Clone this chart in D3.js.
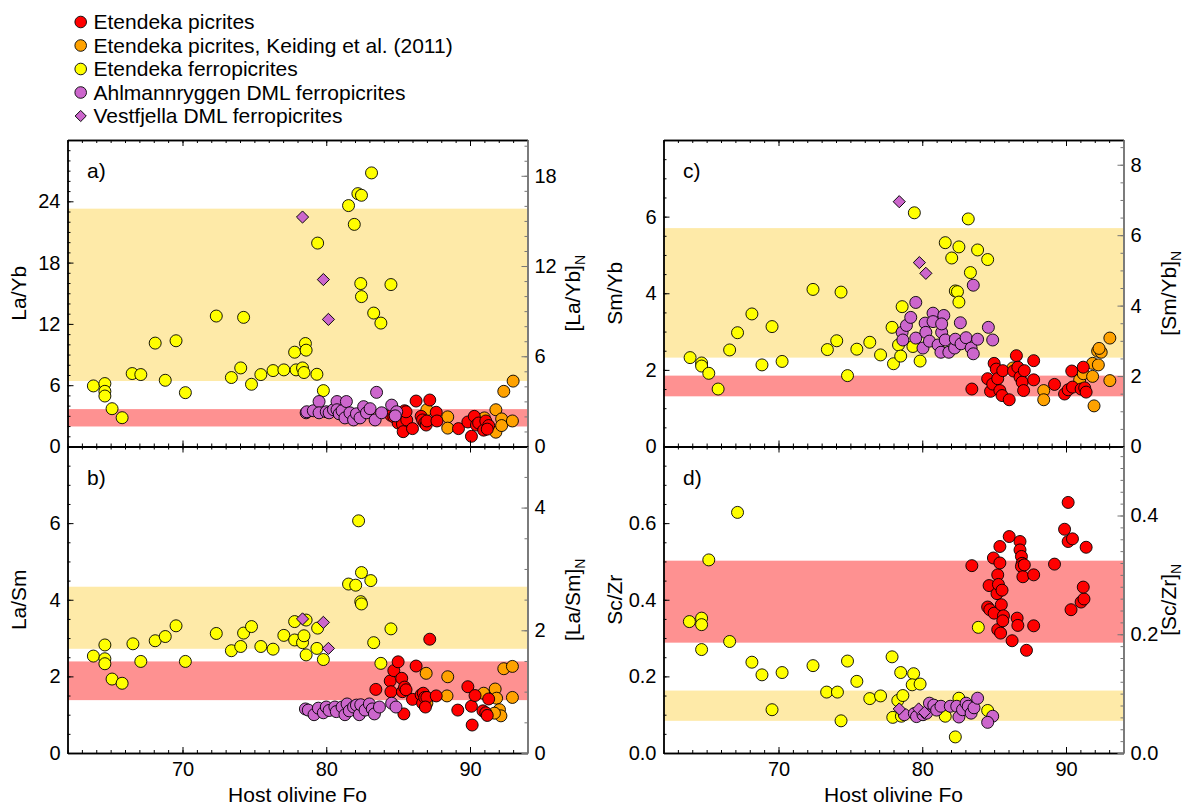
<!DOCTYPE html>
<html>
<head>
<meta charset="utf-8">
<script src="https://cdn.jsdelivr.net/npm/d3@7"></script>
<style>
  body { margin: 0; background: #fff; }
  svg { display: block; font-family: "Liberation Sans", Arial, Helvetica, sans-serif; }
</style>
</head>
<body>
<svg id="chart" width="1187" height="805"></svg>
<script>
// ---------- data: [host olivine Fo, ratio] ----------
const groups = ["pic", "keid", "ferro", "ahl", "vest"];
const groupLabels = [
  "Etendeka picrites",
  "Etendeka picrites, Keiding et al. (2011)",
  "Etendeka ferropicrites",
  "Ahlmannryggen DML ferropicrites",
  "Vestfjella DML ferropicrites"
];
const foDomain = [62, 94];
const foTicks = [70, 80, 90];

// chondrite ratios (McDonough & Sun 1995) for normalised right-hand axes
const chondriteLaYb = 0.237 / 0.161;
const chondriteLaSm = 0.237 / 0.148;
const chondriteSmYb = 0.148 / 0.161;
const chondriteScZr = 5.92 / 3.82;

// a) La/Yb
const laYb_ferro = [[63.8,5.93],[64.6,6.16],[64.6,5.4],[64.6,4.94],[65.1,3.70],[65.8,2.82],[66.5,7.14],[67.1,7.04],[68.1,10.12],[68.8,6.48],[69.55,10.35],[70.2,5.27],[72.35,12.77],[73.4,6.75],[74.05,7.69],[74.25,12.64],[74.8,6.09],[75.45,7.04],[76.3,7.43],[77.05,7.50],[77.8,9.23],[77.9,7.50],[78.35,7.69],[78.45,7.24],[78.55,10.08],[78.6,9.43],[79.35,7.07],[79.4,19.91],[79.8,5.47],[81.55,23.58],[81.95,21.74],[82.2,24.75],[82.45,24.59],[82.4,15.95],[82.45,14.67],[83.15,26.78],[83.3,13.06],[83.8,12.08],[84.5,15.85]];
const laYb_vest = [[78.35,22.46],[79.8,16.34],[80.15,12.44]];
const laYb_ahl = [[78.6,3.3],[78.65,3.4],[79.1,3.5],[79.5,4.4],[79.5,3.3],[80.0,3.4],[80.2,3.3],[80.5,3.6],[80.75,4.4],[80.75,3.6],[80.9,3.2],[81.1,3.5],[81.3,2.8],[81.4,4.4],[81.65,3.3],[81.9,2.6],[82.1,3.2],[82.35,2.8],[82.6,3.9],[82.8,3.3],[83.05,3.7],[83.4,2.6],[83.5,5.3],[83.85,3.3],[84.55,4.05],[84.9,3.4],[84.8,3.0]];
const laYb_pic = [[84.5,3.05],[84.7,2.9],[85.0,2.3],[85.2,2.9],[85.3,2.2],[85.35,1.45],[85.45,3.5],[85.6,2.6],[85.55,3.4],[86.0,1.75],[86.25,4.45],[86.6,2.95],[86.7,2.6],[86.85,2.3],[86.95,2.1],[87.0,2.5],[87.2,4.55],[87.65,3.35],[87.7,2.5],[89.2,1.75],[89.85,2.4],[90.1,1.0],[90.3,2.95],[90.45,2.1],[90.6,2.3],[90.95,1.6],[91.1,2.5],[91.3,2.05],[91.2,1.7]];
const laYb_keid = [[87.0,3.6],[88.45,2.9],[88.45,1.8],[91.0,2.8],[91.8,1.4],[91.8,3.6],[92.2,2.7],[92.2,2.05],[92.95,2.5],[92.35,5.4],[93.0,6.4]];

// b) La/Sm
const laSm_ferro = [[63.8,2.53],[64.6,2.82],[64.6,2.46],[64.6,2.33],[65.1,1.93],[65.8,1.82],[66.55,2.85],[67.1,2.39],[68.1,2.93],[68.8,3.04],[69.55,3.32],[70.2,2.39],[72.35,3.12],[73.4,2.67],[74.05,2.78],[74.25,3.13],[74.8,3.30],[75.45,2.78],[76.3,2.71],[77.05,3.07],[77.8,3.43],[77.8,2.95],[78.35,2.88],[78.45,3.06],[78.6,3.47],[78.6,2.56],[79.35,2.73],[79.4,3.26],[79.8,2.44],[81.55,4.41],[82.05,4.38],[82.25,6.06],[82.4,3.95],[82.45,4.71],[82.45,3.89],[83.1,4.50],[83.3,2.88],[83.8,2.34],[84.5,3.24]];
const laSm_vest = [[78.35,3.50],[79.8,3.41],[80.15,2.73]];
const laSm_ahl = [[78.55,1.15],[78.75,1.12],[79.15,1.0],[79.45,1.17],[79.8,1.05],[80.0,1.2],[80.2,1.11],[80.6,1.2],[80.7,1.08],[81.1,1.2],[81.3,1.0],[81.45,1.28],[81.6,1.1],[81.9,1.2],[82.1,1.25],[82.3,1.0],[82.4,1.26],[82.7,1.12],[83.0,1.28],[83.2,1.15],[83.35,1.02],[83.7,1.2],[84.55,1.30],[84.85,1.2]];
const laSm_pic = [[83.45,1.66],[84.45,1.88],[84.5,1.6],[84.7,2.15],[85.0,2.38],[85.25,1.95],[85.3,1.6],[85.45,1.72],[85.55,1.65],[85.4,1.02],[86.0,1.40],[86.25,2.27],[86.6,1.52],[86.75,1.56],[86.7,1.3],[86.85,1.45],[87.0,1.45],[86.9,1.2],[87.2,2.97],[87.65,1.49],[89.15,1.12],[89.85,1.73],[90.1,1.22],[90.15,0.73],[90.35,1.5],[90.9,1.1],[91.1,1.05],[91.3,1.41],[91.2,0.98]];
const laSm_keid = [[86.95,2.08],[87.0,1.3],[88.45,1.99],[88.4,1.49],[90.95,1.56],[91.75,1.67],[91.85,1.43],[92.05,1.13],[92.15,0.97],[91.7,1.04],[92.35,2.20],[92.95,2.26],[92.95,1.45]];

// c) Sm/Yb
const smYb_ferro = [[63.85,2.32],[64.65,2.18],[64.65,2.10],[65.15,1.91],[65.8,1.50],[66.6,2.52],[67.15,2.97],[68.15,3.46],[68.85,2.13],[69.55,3.13],[70.25,2.22],[72.4,4.10],[73.4,2.53],[74.05,2.76],[74.35,4.03],[74.8,1.85],[75.45,2.54],[76.35,2.72],[77.1,2.39],[77.9,3.11],[78.0,2.16],[78.35,2.65],[78.5,2.36],[78.6,3.65],[79.35,2.61],[79.45,6.10],[79.85,2.23],[81.6,5.32],[82.05,4.92],[82.3,4.06],[82.45,4.04],[82.55,5.21],[82.55,3.77],[83.2,5.94],[83.35,4.54],[83.85,5.13],[84.55,4.88]];
const smYb_vest = [[78.4,6.39],[79.8,4.80],[80.25,4.52]];
const smYb_ahl = [[78.6,2.98],[78.65,2.78],[78.9,3.16],[79.2,3.37],[79.55,3.76],[79.55,2.83],[80.05,2.57],[80.2,3.22],[80.25,2.98],[80.5,2.75],[80.75,3.48],[80.75,3.26],[81.1,2.65],[81.3,2.46],[81.35,2.98],[81.5,3.42],[81.35,3.2],[81.6,2.78],[81.85,2.46],[82.25,2.57],[82.3,2.8],[82.65,3.23],[82.7,2.68],[83.05,2.84],[83.4,2.57],[83.55,2.42],[83.55,4.21],[83.85,2.8],[84.6,3.11],[84.9,2.78]];
const smYb_pic = [[83.45,1.50],[84.55,1.77],[84.75,1.44],[84.9,1.63],[85.0,2.17],[85.15,2.02],[85.25,1.77],[85.4,1.46],[85.6,1.98],[85.55,1.33],[86.05,1.22],[86.35,1.97],[86.55,2.37],[86.65,2.07],[86.8,1.81],[86.95,1.68],[87.05,1.46],[87.1,1.98],[87.75,2.24],[87.75,1.74],[89.2,1.62],[89.9,1.37],[90.15,1.48],[90.4,1.97],[90.45,1.55],[91.05,1.50],[91.2,2.07],[91.3,1.53],[91.4,1.42]];
const smYb_keid = [[86.3,2.05],[88.45,1.46],[88.45,1.22],[90.95,1.74],[91.2,1.90],[91.85,1.83],[91.95,1.06],[91.85,2.17],[92.25,2.13],[92.2,2.49],[92.45,2.46],[92.3,2.56],[93.05,2.83],[93.05,1.72]];

// d) Sc/Zr
const scZr_ferro = [[63.8,0.343],[64.65,0.352],[64.65,0.335],[64.65,0.270],[65.15,0.504],[66.6,0.291],[67.15,0.628],[68.15,0.237],[68.85,0.204],[69.55,0.113],[70.25,0.210],[72.4,0.228],[73.35,0.159],[74.1,0.159],[74.35,0.084],[74.8,0.240],[75.45,0.187],[76.35,0.142],[77.1,0.149],[77.9,0.251],[77.95,0.093],[78.3,0.137],[78.5,0.210],[78.65,0.150],[78.55,0.096],[79.4,0.207],[79.3,0.178],[79.85,0.180],[81.6,0.096],[82.3,0.042],[82.55,0.143],[83.9,0.328],[84.55,0.111]];
const scZr_vest = [[78.4,0.115],[79.75,0.115],[80.15,0.106]];
const scZr_ahl = [[78.75,0.100],[79.45,0.103],[79.6,0.095],[80.05,0.100],[80.3,0.104],[80.5,0.130],[80.8,0.125],[81.0,0.112],[81.3,0.122],[81.95,0.122],[82.4,0.122],[82.55,0.094],[82.8,0.113],[83.05,0.130],[83.2,0.122],[83.4,0.104],[83.6,0.118],[83.85,0.143],[84.9,0.096],[84.55,0.080]];
const scZr_pic = [[83.45,0.489],[84.55,0.381],[84.65,0.437],[84.7,0.374],[84.95,0.509],[85.0,0.365],[85.2,0.416],[85.25,0.465],[85.25,0.322],[85.3,0.44],[85.4,0.539],[85.4,0.496],[85.45,0.313],[85.5,0.387],[85.55,0.425],[85.65,0.358],[85.6,0.345],[86.05,0.565],[86.25,0.293],[86.6,0.352],[86.65,0.333],[86.8,0.552],[86.8,0.530],[86.9,0.513],[86.95,0.495],[86.9,0.487],[87.0,0.46],[87.1,0.491],[87.25,0.268],[87.75,0.465],[87.75,0.332],[89.2,0.493],[89.9,0.584],[90.15,0.654],[90.15,0.552],[90.45,0.559],[90.35,0.374],[91.05,0.394],[91.25,0.402],[91.2,0.433],[91.4,0.537]];
const scZr_keid = [];

// shaded reference ranges [low, high]
const laYb_bands = { ferro: [6.41, 23.28], pic: [1.96, 3.66] };
const laSm_bands = { ferro: [2.72, 4.34], pic: [1.38, 2.39] };
const smYb_bands = { ferro: [2.32, 5.70], pic: [1.31, 1.85] };
const scZr_bands = { ferro: [0.084, 0.163], pic: [0.288, 0.502] };

// axis ticks
const laYb_ticks = [0, 6, 12, 18, 24], laYbN_ticks = [0, 6, 12, 18];
const laSm_ticks = [0, 2, 4, 6], laSmN_ticks = [0, 2, 4];
const smYb_ticks = [0, 2, 4, 6], smYbN_ticks = [0, 2, 4, 6, 8];
const scZr_ticks = [0, 0.2, 0.4, 0.6], scZrN_ticks = [0, 0.2, 0.4];

// ---------- drawing ----------
const fillColor = { pic: "#ff0000", keid: "#ffa200", ferro: "#ffff00", ahl: "#cc66cc", vest: "#cc66cc" };
const bandColor = { ferro: "#feeaa8", pic: "#fe9191" };
const axisGray = "#767676";
const W = 460, H = 306.5;

const panels = [
  { letter: "a)", left: 67.5, top: 140, yMax: 30, chondrite: chondriteLaYb, title: "La/Yb", titleN: "[La/Yb]",
    ticks: laYb_ticks, ticksN: laYbN_ticks, minor: 1, minorN: 1, fmt: d3.format("d"), bottomLabels: false,
    bands: laYb_bands, series: { pic: laYb_pic, keid: laYb_keid, ferro: laYb_ferro, ahl: laYb_ahl, vest: laYb_vest } },
  { letter: "b)", left: 67.5, top: 446.5, yMax: 8, chondrite: chondriteLaSm, title: "La/Sm", titleN: "[La/Sm]",
    ticks: laSm_ticks, ticksN: laSmN_ticks, minor: 0.5, minorN: 0.5, fmt: d3.format("d"), bottomLabels: true,
    bands: laSm_bands, series: { pic: laSm_pic, keid: laSm_keid, ferro: laSm_ferro, ahl: laSm_ahl, vest: laSm_vest } },
  { letter: "c)", left: 663.5, top: 140, yMax: 8, chondrite: chondriteSmYb, title: "Sm/Yb", titleN: "[Sm/Yb]",
    ticks: smYb_ticks, ticksN: smYbN_ticks, minor: 0.5, minorN: 0.5, fmt: d3.format("d"), bottomLabels: false,
    bands: smYb_bands, series: { pic: smYb_pic, keid: smYb_keid, ferro: smYb_ferro, ahl: smYb_ahl, vest: smYb_vest } },
  { letter: "d)", left: 663.5, top: 446.5, yMax: 0.8, chondrite: chondriteScZr, title: "Sc/Zr", titleN: "[Sc/Zr]",
    ticks: scZr_ticks, ticksN: scZrN_ticks, minor: 0.05, minorN: 0.02, fmt: d3.format(".1f"), bottomLabels: true,
    bands: scZr_bands, series: { pic: scZr_pic, keid: scZr_keid, ferro: scZr_ferro, ahl: scZr_ahl, vest: scZr_vest } }
];

const svg = d3.select("#chart");
const diamond = d3.symbol().type(d3.symbolSquare).size(74);

function steps(max, step) {
  const n = Math.floor(max / step + 1e-9);
  return d3.range(0, n + 1).map(i => +(i * step).toFixed(6));
}

function styleAxis(sel, color, width) {
  sel.select(".domain").attr("stroke", color).attr("stroke-width", width);
  sel.selectAll(".tick line").attr("stroke", color).attr("stroke-width", 1);
  sel.selectAll(".tick text").attr("fill", "#000").attr("font-size", 20);
  sel.attr("font-family", null);
}

function drawPanel(p) {
  const g = svg.append("g").attr("transform", `translate(${p.left},${p.top})`);
  const x = d3.scaleLinear().domain(foDomain).range([0, W]);
  const y = d3.scaleLinear().domain([0, p.yMax]).range([H, 0]);
  const yN = d3.scaleLinear().domain([0, p.yMax / p.chondrite]).range([H, 0]);

  // reference ranges
  const bandRows = Object.entries(p.bands).map(([k, v]) => ({ group: k, lo: v[0], hi: v[1] }));
  g.append("g").selectAll("rect").data(bandRows).join("rect")
    .attr("x", 0).attr("width", W)
    .attr("y", d => y(d.hi)).attr("height", d => y(d.lo) - y(d.hi))
    .attr("fill", d => bandColor[d.group]);

  // samples
  const marks = g.append("g").attr("stroke", "#000").attr("stroke-width", 0.9);
  ["ferro", "keid", "pic", "ahl"].forEach(k => {
    marks.append("g").selectAll("circle").data(p.series[k]).join("circle")
      .attr("cx", d => x(d[0])).attr("cy", d => y(d[1])).attr("r", 6)
      .attr("fill", fillColor[k]);
  });
  marks.append("g").selectAll("path").data(p.series.vest).join("path")
    .attr("d", diamond)
    .attr("transform", d => `translate(${x(d[0])},${y(d[1])}) rotate(45)`)
    .attr("fill", fillColor.vest);

  // frame axes: minor ticks then labelled major ticks, all pointing inward
  const minorX = d3.range(62, 95, 1);
  const bx = g.append("g").attr("transform", `translate(0,${H})`);
  bx.append("g").call(d3.axisBottom(x).tickValues(minorX).tickSize(-3).tickSizeOuter(0).tickFormat(""))
    .call(s => styleAxis(s, "#000", 1.4));
  bx.append("g").call(d3.axisBottom(x).tickValues(foTicks).tickSize(-6).tickSizeOuter(0).tickPadding(9)
      .tickFormat(p.bottomLabels ? d3.format("d") : ""))
    .call(s => styleAxis(s, "#000", 1.4));

  const tx = g.append("g");
  tx.append("g").call(d3.axisTop(x).tickValues(minorX).tickSize(-3).tickSizeOuter(0).tickFormat(""))
    .call(s => styleAxis(s, "#000", 1.4));
  tx.append("g").call(d3.axisTop(x).tickValues(foTicks).tickSize(-6).tickSizeOuter(0).tickFormat(""))
    .call(s => styleAxis(s, "#000", 1.4));

  const ly = g.append("g");
  ly.append("g").call(d3.axisLeft(y).tickValues(steps(p.yMax, p.minor)).tickSize(-3).tickSizeOuter(0).tickFormat(""))
    .call(s => styleAxis(s, "#000", 1.4));
  ly.append("g").call(d3.axisLeft(y).tickValues(p.ticks).tickSize(-6).tickSizeOuter(0).tickPadding(7).tickFormat(p.fmt))
    .call(s => styleAxis(s, "#000", 1.4));

  const ry = g.append("g").attr("transform", `translate(${W},0)`);
  ry.append("g").call(d3.axisRight(yN).tickValues(steps(p.yMax / p.chondrite, p.minorN)).tickSize(-3).tickSizeOuter(0).tickFormat(""))
    .call(s => styleAxis(s, axisGray, 1.6));
  ry.append("g").call(d3.axisRight(yN).tickValues(p.ticksN).tickSize(-6).tickSizeOuter(0).tickPadding(7).tickFormat(p.fmt))
    .call(s => styleAxis(s, axisGray, 1.6));

  // panel letter
  g.append("text").attr("x", 19.5).attr("y", 38).attr("font-size", 21).text(p.letter);

  // axis titles
  g.append("text")
    .attr("transform", `translate(${-41.5},${H / 2}) rotate(-90)`)
    .attr("text-anchor", "middle").attr("font-size", 21).text(p.title);
  const tN = g.append("text")
    .attr("transform", `translate(${W + 52.5},${H / 2}) rotate(-90)`)
    .attr("text-anchor", "middle").attr("font-size", 21);
  tN.append("tspan").text(p.titleN);
  tN.append("tspan").attr("font-size", 14).attr("dy", 5).text("N");

  if (p.bottomLabels) {
    g.append("text").attr("x", W / 2).attr("y", H + 49)
      .attr("text-anchor", "middle").attr("font-size", 21).text("Host olivine Fo");
  }
}

panels.forEach(drawPanel);

// legend
const legend = svg.append("g").attr("transform", "translate(80.7,22)");
const rows = legend.selectAll("g").data(groups).join("g")
  .attr("transform", (d, i) => `translate(0,${i * 23.5})`);
rows.filter(d => d !== "vest").append("circle")
  .attr("r", 5.8).attr("fill", d => fillColor[d]).attr("stroke", "#000").attr("stroke-width", 0.9);
rows.filter(d => d === "vest").append("path")
  .attr("d", d3.symbol().type(d3.symbolSquare).size(62)).attr("transform", "rotate(45)")
  .attr("fill", fillColor.vest).attr("stroke", "#000").attr("stroke-width", 0.9);
rows.append("text").attr("x", 12.8).attr("dy", "0.35em").attr("font-size", 21)
  .text((d, i) => groupLabels[i]);
</script>
</body>
</html>
